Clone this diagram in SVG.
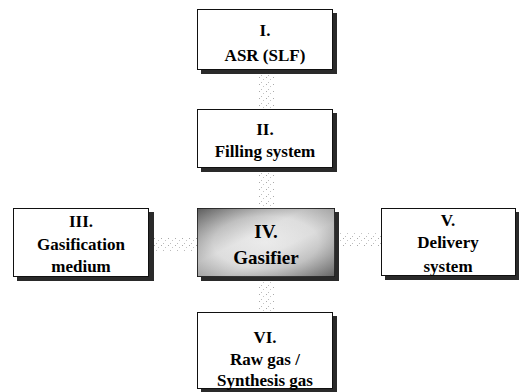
<svg xmlns="http://www.w3.org/2000/svg" width="519" height="392" viewBox="0 0 519 392">
<defs>
<pattern id="dots" width="7" height="7" patternUnits="userSpaceOnUse">
<rect x="0" y="0" width="1" height="1" fill="#aaa"/>
<rect x="4" y="2" width="1" height="1" fill="#c4c4c4"/>
<rect x="2" y="5" width="1" height="1" fill="#bbb"/>
</pattern>
<radialGradient id="gas" cx="0.5" cy="0.5" r="0.7">
<stop offset="0" stop-color="#f4f4f4"/>
<stop offset="0.55" stop-color="#d8d8d8"/>
<stop offset="1" stop-color="#666"/>
</radialGradient>
<linearGradient id="gas2" x1="0" y1="0" x2="1" y2="1">
<stop offset="0" stop-color="#555"/>
<stop offset="0.4" stop-color="#e4e4e4"/>
<stop offset="0.6" stop-color="#e0e0e0"/>
<stop offset="1" stop-color="#666"/>
</linearGradient>
</defs>
<style>
.box{fill:#fff;stroke:#111;stroke-width:1}
.sh{fill:#2a2a2a}
text{font-family:'Liberation Serif','DejaVu Serif','Times New Roman',Times,serif;font-weight:700;font-size:17px;fill:#000;text-anchor:middle}
.c{fill:url(#dots)}
</style>
<g id="connectors">
<rect class="c" x="258" y="73" width="16" height="36"/>
<rect class="c" x="258" y="168" width="16" height="40"/>
<rect class="c" x="258" y="281" width="16" height="31"/>
<rect class="c" x="154" y="238" width="43" height="14"/>
<rect class="c" x="339" y="232" width="42" height="14"/>
</g>
<g id="n1">
<rect class="sh" x="201" y="13" width="136" height="61"/>
<rect class="box" x="197.5" y="9.5" width="135" height="60"/>
<text x="265" y="36">I.</text>
<text x="265" y="61">ASR (SLF)</text>
</g>
<g id="n2">
<rect class="sh" x="201" y="113" width="136" height="59"/>
<rect class="box" x="197.5" y="109.5" width="135" height="58"/>
<text x="265" y="135">II.</text>
<text x="265" y="157">Filling system</text>
</g>
<g id="n3">
<rect class="sh" x="17" y="212" width="137" height="69"/>
<rect class="box" x="13.5" y="208.5" width="135" height="68"/>
<text x="81" y="227">III.</text>
<text x="81" y="250">Gasification</text>
<text x="81" y="272">medium</text>
</g>
<g id="n4">
<rect class="sh" x="201" y="212" width="138" height="69"/>
<rect x="197.5" y="208.5" width="137" height="68" fill="url(#gas2)" stroke="#111"/>
<rect x="197.5" y="208.5" width="137" height="68" fill="url(#gas)" opacity="0.5"/>
<text x="266" y="238" style="font-size:19px">IV.</text>
<text x="266" y="264" style="font-size:19px">Gasifier</text>
</g>
<g id="n5">
<rect class="sh" x="385" y="212" width="135" height="68"/>
<rect class="box" x="381.5" y="208.5" width="134" height="67"/>
<text x="448" y="226">V.</text>
<text x="448" y="248">Delivery</text>
<text x="448" y="272">system</text>
</g>
<g id="n6">
<rect class="sh" x="201" y="316" width="136" height="76"/>
<rect class="box" x="197.5" y="312.5" width="135" height="76"/>
<text x="265" y="343">VI.</text>
<text x="265" y="365">Raw gas /</text>
<text x="265" y="386">Synthesis gas</text>
</g>
</svg>
